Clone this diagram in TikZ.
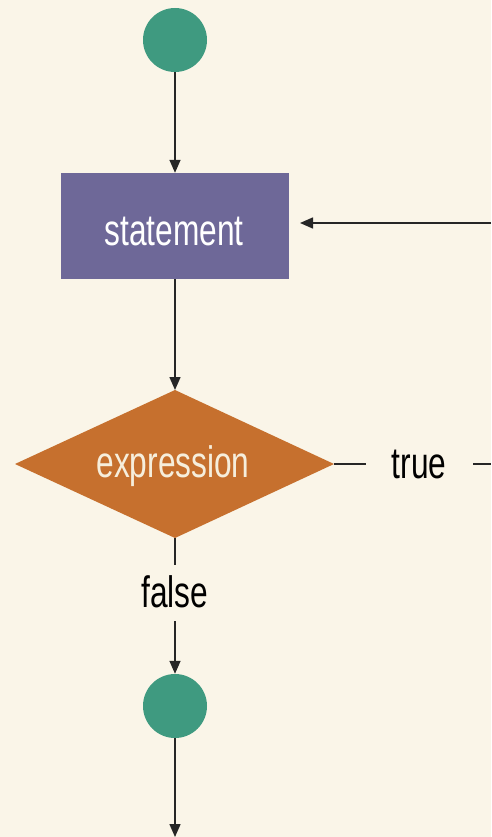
\documentclass[tikz,border=0pt]{standalone}
\usepackage{fontspec}
\setmainfont[FakeStretch=0.72]{Liberation Sans}
\usetikzlibrary{arrows.meta,shapes.geometric}
\definecolor{bgcream}{HTML}{FAF5E8}
\definecolor{dotgreen}{HTML}{3F9A80}
\definecolor{boxpurple}{HTML}{6E6898}
\definecolor{decorange}{HTML}{C6702E}
\definecolor{paletext}{HTML}{F6EEDC}
\begin{document}
\begin{tikzpicture}[x=1pt,y=-1pt,
  flow/.style={line width=1.5pt,draw=black!85},
  arr/.style={flow,-{Triangle[length=13pt,width=11pt]}},
  dot/.style={circle,fill=dotgreen,minimum size=64pt,inner sep=0pt},
  lbl/.style={font=\fontsize{44}{48}\selectfont,anchor=base,inner sep=0pt}]
  \fill[bgcream] (0,0) rectangle (491,837);
  \useasboundingbox (0,0) rectangle (491,837);

  % start dot, statement box, decision diamond, end dot
  \node[dot] (start) at (175,40) {};
  \node[fill=boxpurple,minimum width=228pt,minimum height=106pt,inner sep=0pt]
        (stmt) at (175,226) {};
  \node[text=white,lbl] (stmtl) at (174,245) {statement};
  \coordinate (dT) at (175,390);
  \coordinate (dB) at (175,538);
  \coordinate (dL) at (15,464);
  \coordinate (dR) at (334,464);
  \fill[decorange] (dT) -- (dR) -- (dB) -- (dL) -- cycle;
  \node[text=paletext,lbl] (expr) at (173,477) {expression};
  \node[dot] (stop) at (175,706) {};

  % labels on the branches
  \node[lbl] (truel) at (419,478) {true};
  \node[lbl] (falsel) at (175,607) {false};

  % loop-back entry and exit
  \coordinate (loopin) at (491,223);
  \coordinate (stmtR) at (300,223);
  \coordinate (exit) at (175,837);
  \coordinate (trueA) at (366,464);
  \coordinate (trueB) at (473,464);
  \coordinate (falseA) at (175,565);
  \coordinate (falseB) at (175,621);

  % connectors
  \draw[arr] (start) -- (stmt.north);
  \draw[arr] (loopin) -- (stmtR);
  \draw[arr] (stmt.south) -- (dT);
  \draw[flow] (dR) -- (trueA);
  \draw[flow] (trueB) -- (loopin |- trueB);
  \draw[flow] (dB) -- (falseA);
  \draw[arr] (falseB) -- (stop.north);
  \draw[arr] (stop) -- (exit);
\end{tikzpicture}
\end{document}
